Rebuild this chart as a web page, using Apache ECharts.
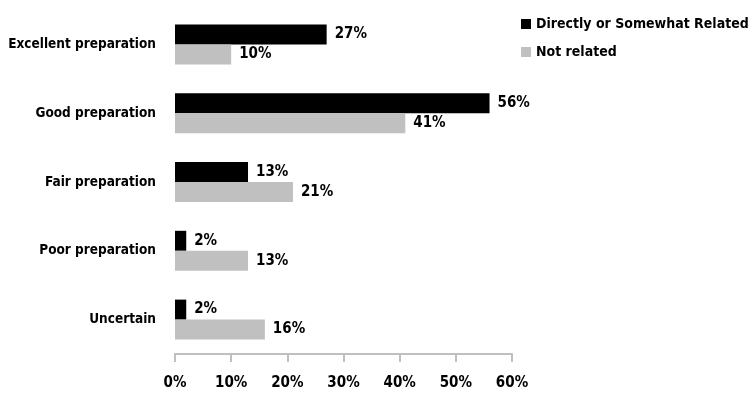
<!DOCTYPE html>
<html>
<head>
<meta charset="utf-8">
<script src="https://cdn.jsdelivr.net/npm/echarts@6/dist/echarts.min.js"></script>
<style>
  html, body { margin: 0; padding: 0; background: #fff; }
  #chart { width: 752px; height: 403px; }
</style>
</head>
<body>
<div id="chart"></div>
<script>
// Readiness ratings, split by whether the work is related to the degree
const categories = ['Excellent preparation', 'Good preparation', 'Fair preparation', 'Poor preparation', 'Uncertain'];
const relatedValues = [27, 56, 13, 2, 2];
const notRelatedValues = [10, 41, 21, 13, 16];
const seriesNames = ['Directly or Somewhat Related', 'Not related'];
const xTicks = [0, 10, 20, 30, 40, 50, 60];

const FONT = '"Liberation Sans Narrow", "DejaVu Sans Condensed", "Liberation Sans", sans-serif';

const chart = echarts.init(document.getElementById('chart'));

const valueLabel = {
  show: true,
  position: 'right',
  distance: 8,
  formatter: '{c}%',
  color: '#000',
  fontFamily: FONT,
  fontWeight: 'bold',
  fontSize: 15
};

chart.setOption({
  animation: false,
  backgroundColor: '#fff',
  textStyle: { fontFamily: FONT },
  legend: {
    orient: 'vertical',
    left: 516,
    top: 12,
    itemWidth: 10,
    itemHeight: 10,
    itemGap: 14,
    icon: 'rect',
    textStyle: { fontFamily: FONT, fontWeight: 'bold', fontSize: 14, color: '#000' },
    data: seriesNames
  },
  grid: { left: 175, top: 10, width: 337, height: 344, containLabel: false, outerBoundsMode: 'none' },
  xAxis: {
    type: 'value',
    min: xTicks[0],
    max: xTicks[xTicks.length - 1],
    interval: 10,
    axisLine: { show: true, lineStyle: { color: '#bfbfbf', width: 2 } },
    axisTick: { show: true, length: 8, lineStyle: { color: '#bfbfbf', width: 2 } },
    splitLine: { show: false },
    axisLabel: {
      formatter: '{value}%',
      margin: 22,
      color: '#000',
      fontFamily: FONT,
      fontWeight: 'bold',
      fontSize: 15
    }
  },
  yAxis: {
    type: 'category',
    inverse: true,
    data: categories,
    axisLine: { show: false },
    axisTick: { show: false },
    axisLabel: {
      margin: 19,
      color: '#000',
      fontFamily: FONT,
      fontWeight: 'bold',
      fontSize: 13.5
    }
  },
  series: [
    {
      name: seriesNames[0],
      type: 'bar',
      data: relatedValues,
      barWidth: 20,
      barGap: '0%',
      itemStyle: { color: '#000' },
      label: valueLabel
    },
    {
      name: seriesNames[1],
      type: 'bar',
      data: notRelatedValues,
      barWidth: 20,
      barGap: '0%',
      itemStyle: { color: '#c0c0c0' },
      label: valueLabel
    }
  ]
});
</script>
</body>
</html>
